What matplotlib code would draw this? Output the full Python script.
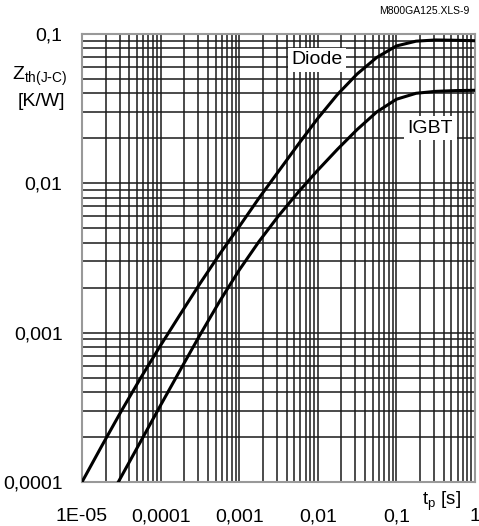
import numpy as np
import matplotlib
matplotlib.use("Agg")
import matplotlib.pyplot as plt
from matplotlib.ticker import LogLocator, FixedLocator, FixedFormatter, NullFormatter

plt.rcParams['font.family'] = ['Liberation Sans', 'DejaVu Sans']

# Data (log10 values)
diode_log_t = [-5.0, -4.75, -4.5, -4.25, -4.0, -3.75, -3.5, -3.25, -3.0, -2.75, -2.5, -2.25,
               -2.0, -1.75, -1.5, -1.25, -1.0, -0.75, -0.5, -0.25, 0.0]
diode_log_z = [-4.0, -3.76, -3.525, -3.30, -3.085, -2.877, -2.672, -2.475, -2.29, -2.10, -1.92, -1.74,
               -1.565, -1.405, -1.268, -1.157, -1.08, -1.048, -1.040, -1.042, -1.045]

igbt_log_t = [-4.538, -4.25, -4.0, -3.75, -3.5, -3.25, -3.0, -2.75, -2.5, -2.25, -2.0, -1.75,
              -1.5, -1.25, -1.0, -0.75, -0.5, -0.25, 0.0]
igbt_log_z = [-4.0, -3.725, -3.486, -3.25, -3.016, -2.791, -2.581, -2.391, -2.218, -2.06, -1.912, -1.772,
              -1.64, -1.522, -1.437, -1.397, -1.384, -1.379, -1.377]

x_ticks = [1e-5, 1e-4, 1e-3, 1e-2, 1e-1, 1]
x_tick_labels = ["1E-05", "0,0001", "0,001", "0,01", "0,1", "1"]
y_ticks = [1e-4, 1e-3, 1e-2, 1e-1]
y_tick_labels = ["0,0001", "0,001", "0,01", "0,1"]

fig = plt.figure(figsize=(4.79, 5.26), dpi=100)
ax = fig.add_axes([82/479, 1-482/526, (475-82)/479, (482-34)/526])

ax.set_xscale('log')
ax.set_yscale('log')
ax.set_xlim(1e-5, 1)
ax.set_ylim(1e-4, 0.1)

ax.xaxis.set_major_locator(FixedLocator(x_ticks))
ax.xaxis.set_major_formatter(FixedFormatter(x_tick_labels))
ax.yaxis.set_major_locator(FixedLocator(y_ticks))
ax.yaxis.set_major_formatter(FixedFormatter(y_tick_labels))
ax.xaxis.set_minor_locator(LogLocator(base=10, subs=np.arange(2, 10)))
ax.yaxis.set_minor_locator(LogLocator(base=10, subs=np.arange(2, 10)))
ax.xaxis.set_minor_formatter(NullFormatter())
ax.yaxis.set_minor_formatter(NullFormatter())

ax.grid(True, which='both', color='#1a1a1a', linewidth=1.1)
ax.tick_params(which='both', length=0)
ax.tick_params(axis='x', pad=19, labelsize=14)
ax.tick_params(axis='y', pad=14, labelsize=14)
for s in ax.spines.values():
    s.set_color('#999999')
    s.set_linewidth(1.5)

ax.plot(10**np.array(diode_log_t), 10**np.array(diode_log_z), color='black', lw=2.2, zorder=3)
ax.plot(10**np.array(igbt_log_t), 10**np.array(igbt_log_z), color='black', lw=2.2, zorder=3)

ax.text(0.0098, 10**-1.174, "Diode", fontsize=14, ha='center', va='center', zorder=4,
        bbox=dict(facecolor='white', edgecolor='none', pad=2.5))
ax.text(0.27, 10**-1.63, "IGBT", fontsize=14, ha='center', va='center', zorder=4,
        bbox=dict(facecolor='white', edgecolor='none', pad=2.5))

fig.text(470/479, 1-11/526, "M800GA125.XLS-9", fontsize=7.5, ha='right', va='center')
fig.text(40/479, 1-76/526, r"Z$_{\mathregular{th(J\text{-}C)}}$", fontsize=14, ha='center', va='center')
fig.text(41/479, 1-101/526, "[K/W]", fontsize=14, ha='center', va='center')
fig.text(441/479, 1-501/526, r"t$_{\mathregular{p}}$ [s]", fontsize=13.5, ha='center', va='center')

fig.savefig("out.png", dpi=100)
